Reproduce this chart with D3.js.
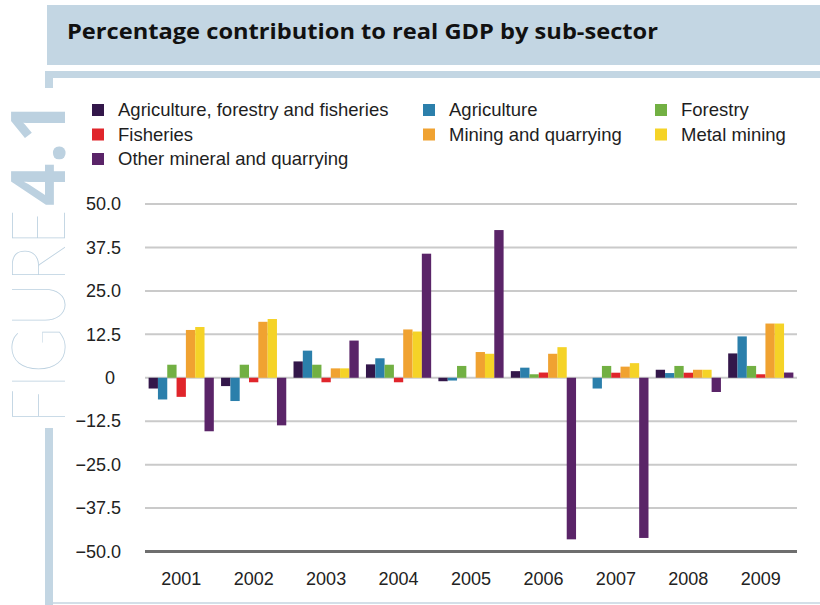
<!DOCTYPE html>
<html>
<head>
<meta charset="utf-8">
<script src="https://cdn.jsdelivr.net/npm/d3@7"></script>
<style>
  body { margin: 0; background: #fff; }
  svg { display: block; }
</style>
</head>
<body>
<svg id="chart" width="820" height="605"></svg>
<script>
const years = ['2001', '2002', '2003', '2004', '2005', '2006', '2007', '2008', '2009'];
const seriesNames = [
  'Agriculture, forestry and fisheries', 'Agriculture', 'Forestry',
  'Fisheries', 'Mining and quarrying', 'Metal mining',
  'Other mineral and quarrying'
];
const seriesColors = ['#33174a', '#2b7fab', '#72b043', '#e0252b', '#f0a231', '#f5d327', '#5a2468'];

// values (%)
const agriForestryFisheries = [-3.1, -2.4, 4.7, 3.85, -1.0, 1.9, 0, 2.3, 7.0];
const agriculture = [-6.25, -6.7, 7.8, 5.6, -0.8, 2.9, -3.1, 1.35, 11.9];
const forestry = [3.75, 3.75, 3.75, 3.75, 3.4, 1.0, 3.4, 3.4, 3.4];
const fisheries = [-5.5, -1.3, -1.3, -1.3, 0, 1.5, 1.45, 1.45, 1.0];
const miningQuarrying = [13.75, 16.1, 2.7, 13.9, 7.4, 6.9, 3.2, 2.3, 15.6];
const metalMining = [14.6, 16.9, 2.7, 13.3, 6.9, 8.8, 4.2, 2.3, 15.6];
const otherMineral = [-15.4, -13.7, 10.7, 35.7, 42.5, -46.5, -46.1, -4.1, 1.5];

const yTicks = [50, 37.5, 25, 12.5, 0, -12.5, -25, -37.5, -50];

const allSeries = [agriForestryFisheries, agriculture, forestry, fisheries, miningQuarrying, metalMining, otherMineral];
const rows = years.map((yr, i) => ({ year: yr, values: allSeries.map(s => s[i]) }));

const svg = d3.select('#chart');
const frameColor = '#c3d6e3';

// frame / header decoration
svg.append('rect').attr('x', 47).attr('y', 5).attr('width', 773).attr('height', 60).attr('fill', frameColor);
svg.append('rect').attr('x', 45).attr('y', 71).attr('width', 775).attr('height', 7).attr('fill', frameColor);
svg.append('rect').attr('x', 45).attr('y', 71).attr('width', 8).attr('height', 534).attr('fill', frameColor);
svg.append('line').attr('x1', 53).attr('x2', 820).attr('y1', 603).attr('y2', 603)
  .attr('stroke', '#d3dfe8').attr('stroke-width', 2);
svg.append('rect').attr('x', 0).attr('y', 88).attr('width', 70).attr('height', 340).attr('fill', '#fff');

svg.append('text')
  .attr('transform', 'translate(65,424) rotate(-90)')
  .attr('font-family', 'Lato, "Open Sans", sans-serif')
  .attr('font-weight', 200)
  .attr('font-size', 76)
  .attr('fill', '#bcd1e0')
  .attr('textLength', 215)
  .attr('lengthAdjust', 'spacingAndGlyphs')
  .text('FIGURE');
svg.append('text')
  .attr('transform', 'translate(65,206) rotate(-90)')
  .attr('font-family', '"Open Sans", Lato, sans-serif')
  .attr('font-weight', 'bold')
  .attr('font-size', 76)
  .attr('fill', '#bcd1e0')
  .attr('textLength', 106)
  .attr('lengthAdjust', 'spacingAndGlyphs')
  .text('4.1');

svg.append('text')
  .attr('x', 67).attr('y', 39)
  .attr('font-family', '"Open Sans", sans-serif')
  .attr('font-weight', 'bold')
  .attr('font-size', 21)
  .attr('fill', '#111')
  .attr('textLength', 591)
  .attr('lengthAdjust', 'spacingAndGlyphs')
  .text('Percentage contribution to real GDP by sub-sector');

// legend
const legendCols = [92, 423, 655];
const legendRows = [110, 134.5, 159];
const legend = svg.append('g').attr('font-family', '"Liberation Sans", Arial, sans-serif').attr('font-size', 18.5);
seriesNames.forEach((name, i) => {
  const lx = legendCols[i % 3], ly = legendRows[Math.floor(i / 3)];
  legend.append('rect').attr('x', lx).attr('y', ly - 6).attr('width', 12).attr('height', 12).attr('fill', seriesColors[i]);
  legend.append('text').attr('x', lx + 26).attr('y', ly).attr('dy', '0.35em').attr('fill', '#1e1e1e').text(name);
});

// scales
const x0 = d3.scaleBand().domain(years).range([145, 797]).paddingInner(0.1).paddingOuter(0.05);
const x1 = d3.scaleBand().domain(d3.range(seriesNames.length)).range([0, x0.bandwidth()]);
const y = d3.scaleLinear().domain([-50, 50]).range([551.5, 204]);

// grid
const grid = svg.append('g');
grid.selectAll('line').data(yTicks).join('line')
  .attr('x1', 145).attr('x2', 797)
  .attr('y1', d => y(d)).attr('y2', d => y(d))
  .attr('stroke', d => d === -50 ? '#6e6e6e' : '#cacaca')
  .attr('stroke-width', d => d === -50 ? 3 : 2);

const yAxis = svg.append('g')
  .attr('transform', 'translate(121,0)')
  .call(d3.axisLeft(y).tickValues(yTicks).tickSize(0).tickPadding(0)
    .tickFormat(d => d === 0 ? '0' : d3.format('.1f')(d)));
yAxis.select('.domain').remove();
yAxis.selectAll('text')
  .attr('font-family', '"Liberation Sans", Arial, sans-serif')
  .attr('font-size', 18).attr('fill', '#222')
  .attr('dx', d => d === 0 ? -6 : 0);

const xAxis = svg.append('g')
  .attr('transform', `translate(0,${y(-50)})`)
  .call(d3.axisBottom(x0).tickSize(0).tickPadding(21));
xAxis.select('.domain').remove();
xAxis.selectAll('text')
  .attr('font-family', '"Liberation Sans", Arial, sans-serif')
  .attr('font-size', 18).attr('fill', '#222');

// bars
const groups = svg.append('g').selectAll('g').data(rows).join('g')
  .attr('transform', d => `translate(${x0(d.year)},0)`);
groups.selectAll('rect').data(d => d.values.map((v, i) => ({ v, i }))).join('rect')
  .attr('x', d => x1(d.i))
  .attr('width', x1.bandwidth())
  .attr('y', d => y(Math.max(0, d.v)))
  .attr('height', d => Math.abs(y(d.v) - y(0)))
  .attr('fill', d => seriesColors[d.i]);
</script>
</body>
</html>
